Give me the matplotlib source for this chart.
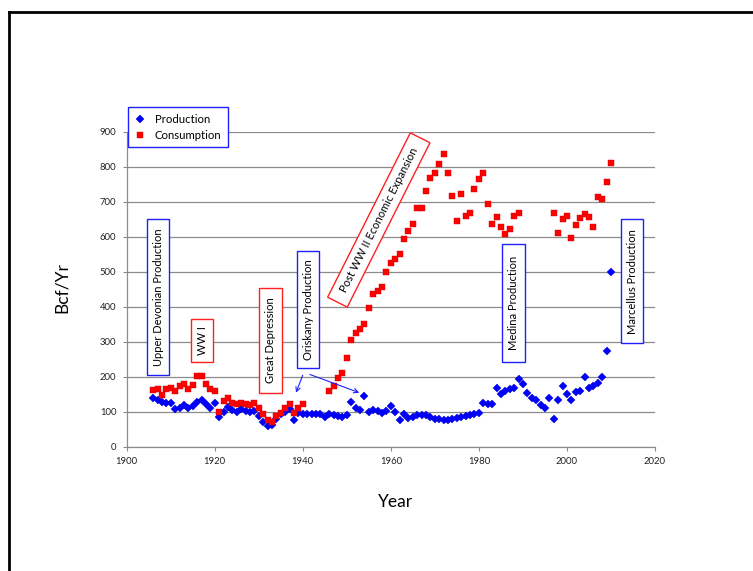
import matplotlib
matplotlib.use("Agg")
import matplotlib.pyplot as plt
import numpy as np
from matplotlib.patches import Rectangle
from matplotlib.lines import Line2D
from matplotlib.transforms import IdentityTransform

W, H = 753, 571

# annual natural gas production (Bcf/yr)
prod_years = np.arange(1906, 2011)
production = [
    138, 133, 129, 126, 126, 108, 112, 119, 112, 116,
    129, 133, 122, 112, 126, 86, 100, 114, 105, 100,
    107, 103, 100, 103, 88, 71, 59, 62, 78, 93,
    100, 108, 76, 95, 93, 93, 93, 93, 93, 84,
    93, 91, 88, 84, 90, 129, 110, 105, 145, 98,
    105, 102, 95, 102, 116, 100, 76, 93, 81, 86,
    90, 90, 90, 84, 80, 78, 76, 76, 80, 82,
    85, 88, 91, 94, 97, 124, 123, 121, 167, 150,
    159, 164, 167, 193, 178, 153, 140, 133, 119, 110,
    138, 79, 133, 174, 150, 133, 157, 159, 198, 169,
    174, 181, 198, 273, 500,
]

# annual consumption (Bcf/yr), with gaps in the record
cons_years = list(range(1906, 1941)) + list(range(1946, 1990)) + list(range(1997, 2011))
consumption = [
    162, 164, 148, 164, 169, 159, 174, 178, 165, 176,
    202, 202, 178, 164, 160, 100, 131, 140, 124, 122,
    126, 122, 119, 124, 110, 93, 76, 71, 88, 95,
    110, 121, 97, 110, 122,
    160, 173, 195, 211, 254, 305, 326, 335, 351, 395,
    435, 446, 457, 500, 526, 536, 551, 593, 616, 636,
    681, 681, 731, 767, 781, 807, 836, 781, 717, 646,
    722, 660, 667, 736, 765, 783, 693, 636, 655, 627,
    607, 621, 660, 667,
    667, 611, 650, 660, 597, 633, 654, 664, 657, 627,
    713, 707, 757, 811,
]

x_ticks = [1900, 1920, 1940, 1960, 1980, 2000, 2020]
y_ticks = [0, 100, 200, 300, 400, 500, 600, 700, 800, 900]

# callout boxes: text, centre (px), length, thickness, angle, colour
callouts = [
    ("Upper Devonian Production", 158.0, 297.2, 155.7, 22.6, 90, "#1f1fff"),
    ("WW I", 202.0, 340.7, 43.3, 22.6, 90, "#ff2020"),
    ("Great Depression", 270.7, 340.5, 105.6, 22.7, 90, "#ff2020"),
    ("Oriskany Production", 308.0, 309.5, 117.6, 22.6, 90, "#1f1fff"),
    ("Post WW II Economic Expansion", 378.8, 220.0, 184.0, 22.0, 63.3, "#ff2020"),
    ("Medina Production", 513.7, 303.2, 118.3, 22.7, 90, "#1f1fff"),
    ("Marcellus Production", 632.0, 281.2, 124.3, 22.6, 90, "#1f1fff"),
]

plt.rcParams['font.family'] = ['Lato', 'DejaVu Sans']

fig = plt.figure(figsize=(W / 100, H / 100), dpi=100)
ax = fig.add_axes([126.7 / W, 1 - 446.7 / H, (655 - 126.7) / W, (446.7 - 131.7) / H])

grey = "#8c8c8c"
ax.plot(prod_years, production, linestyle="none", marker="D", ms=4,
        color="#0000ff", mec="#0000cc", mew=0.3, label="Production", zorder=3)
ax.plot(cons_years, consumption, linestyle="none", marker="s", ms=4.6,
        color="#ff0000", mec="#cc0000", mew=0.3, label="Consumption", zorder=3)

ax.set_xlim(1900, 2020)
ax.set_ylim(0, 900)
ax.set_xticks(x_ticks)
ax.set_yticks(y_ticks)
ax.yaxis.grid(True, color=grey, lw=0.9)
ax.set_axisbelow(True)
for side in ("top", "right"):
    ax.spines[side].set_visible(False)
for side in ("left", "bottom"):
    ax.spines[side].set_color(grey)
    ax.spines[side].set_linewidth(0.9)
ax.tick_params(axis="both", colors=grey, labelcolor="#222222", labelsize=6.8, length=3, width=0.8)
ax.tick_params(axis="y", pad=4.5)
ax.tick_params(axis="x", pad=4.3)

fig.text(62 / W, 1 - 288 / H, "Bcf/Yr", rotation=90, ha="center", va="center", fontsize=12.5)
fig.text(396 / W, 1 - 502 / H, "Year", ha="center", va="center", fontsize=12.5)

leg = fig.legend(loc="upper left", bbox_to_anchor=(128 / W, 1 - 107.3 / H),
                 frameon=True, fancybox=False, edgecolor="#1f1fff", framealpha=1,
                 fontsize=8.2, handlelength=1.0, handletextpad=0.8,
                 borderpad=0.55, labelspacing=0.45, borderaxespad=0)
leg.get_frame().set_linewidth(1.0)
leg.set_zorder(5)

for text, cx, cy, length, thick, angle, color in callouts:
    box = Rectangle((cx - length / 2, H - cy - thick / 2), length, thick,
                    angle=angle, rotation_point="center", transform=IdentityTransform(),
                    facecolor="white", edgecolor=color, lw=1.0, zorder=4)
    fig.add_artist(box)
    fig.text(cx / W, 1 - cy / H, text, rotation=angle, rotation_mode="anchor",
             ha="center", va="center", fontsize=8, zorder=5)

arrow = dict(arrowstyle="->", color="#1f1fff", lw=0.8, shrinkA=0, shrinkB=0, mutation_scale=8)
ax.annotate("", xy=(296, H - 392.7), xycoords="figure pixels",
            xytext=(302.7, H - 375.3), textcoords="figure pixels",
            arrowprops=arrow, annotation_clip=False)
ax.annotate("", xy=(359.3, H - 392.7), xycoords="figure pixels",
            xytext=(310, H - 374.5), textcoords="figure pixels",
            arrowprops=arrow, annotation_clip=False)

# slide border along the top and left edges
fig.add_artist(Line2D([8.7 / W, 8.7 / W], [0, 1 - 12.3 / H], color="black", lw=2.0,
                      transform=fig.transFigure, solid_capstyle="projecting"))
fig.add_artist(Line2D([8.7 / W, 1], [1 - 12.3 / H, 1 - 12.3 / H], color="black", lw=2.0,
                      transform=fig.transFigure, solid_capstyle="projecting"))

fig.savefig("out.png", dpi=100)
